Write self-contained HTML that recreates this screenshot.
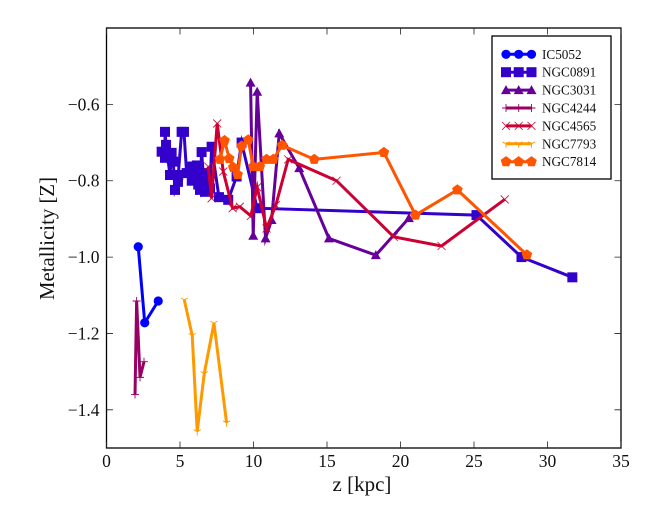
<!DOCTYPE html>
<html>
<head>
<meta charset="utf-8">
<style>
html,body{margin:0;padding:0;background:#fff;}
svg{display:block;}
text{font-family:"Liberation Serif",serif;fill:#111;}
</style>
</head>
<body>
<svg id="chart" width="664" height="525" viewBox="0 0 664 525" xmlns="http://www.w3.org/2000/svg"></svg>
<script>
var xTicks = [0, 5, 10, 15, 20, 25, 30, 35];
var yTicks = [-0.6, -0.8, -1.0, -1.2, -1.4];
var xDomain = [0, 35];
var yDomain = [-1.5, -0.4];

var ic5052Z = [2.16, 2.6, 3.52];
var ic5052M = [-0.973, -1.172, -1.115];
var ngc0891Z = [3.75, 3.98, 3.98, 4.05, 4.32, 4.43, 4.54, 4.66, 4.86, 4.88, 5.11, 5.27, 5.45, 5.68, 5.8, 5.9, 6.02, 6.15, 6.24, 6.36, 6.47, 6.58, 6.7, 6.7, 7.04, 7.15, 7.65, 8.28, 8.85, 9.19, 10.25, 25.17, 28.23, 31.69];
var ngc0891M = [-0.724, -0.74, -0.672, -0.706, -0.785, -0.727, -0.75, -0.824, -0.803, -0.785, -0.672, -0.672, -0.78, -0.763, -0.8, -0.763, -0.785, -0.76, -0.81, -0.824, -0.725, -0.78, -0.798, -0.829, -0.82, -0.711, -0.843, -0.85, -0.789, -0.7, -0.872, -0.89, -1.0, -1.053];
var ngc3031Z = [9.8, 9.98, 10.25, 10.82, 11.23, 11.75, 13.11, 15.13, 18.32, 20.57];
var ngc3031M = [-0.543, -0.944, -0.567, -0.951, -0.903, -0.676, -0.767, -0.951, -0.995, -0.898];
var ngc4244Z = [1.94, 2.05, 2.28, 2.55];
var ngc4244M = [-1.36, -1.115, -1.315, -1.274];
var ngc4565Z = [6.92, 7.15, 7.53, 7.94, 8.58, 9.07, 9.82, 10.25, 10.89, 11.52, 12.36, 15.65, 19.54, 22.79, 27.09];
var ngc4565M = [-0.763, -0.846, -0.65, -0.776, -0.872, -0.868, -0.892, -0.817, -0.925, -0.864, -0.744, -0.8, -0.947, -0.971, -0.849];
var ngc7793Z = [5.29, 5.83, 6.17, 6.65, 7.31, 8.17];
var ngc7793M = [-1.112, -1.205, -1.457, -1.305, -1.173, -1.434];
var ngc7814Z = [7.72, 8.03, 8.35, 8.62, 8.92, 9.19, 9.64, 9.98, 10.43, 10.89, 11.34, 11.95, 14.13, 18.87, 21.02, 23.87, 28.6];
var ngc7814M = [-0.744, -0.695, -0.742, -0.765, -0.784, -0.709, -0.693, -0.763, -0.763, -0.744, -0.744, -0.707, -0.744, -0.726, -0.89, -0.824, -0.994];

var plotLeft = 106.5, plotRight = 621, plotTop = 28, plotBottom = 448;
var NS = 'http://www.w3.org/2000/svg';
var svg = document.getElementById('chart');

function xScale(v) { return plotLeft + (v - xDomain[0]) / (xDomain[1] - xDomain[0]) * (plotRight - plotLeft); }
function yScale(v) { return plotBottom - (v - yDomain[0]) / (yDomain[1] - yDomain[0]) * (plotBottom - plotTop); }

function node(tag, attrs, parent) {
  var el = document.createElementNS(NS, tag);
  for (var k in attrs) { el.setAttribute(k, attrs[k]); }
  (parent || svg).appendChild(el);
  return el;
}

function drawMarker(kind, cx, cy, color, parent) {
  var el, pts, i, a;
  if (kind === 'circle') {
    el = node('circle', {cx: cx, cy: cy, r: 4.6, fill: color}, parent);
  } else if (kind === 'square') {
    el = node('rect', {x: cx - 5, y: cy - 5, width: 10, height: 10, fill: color}, parent);
  } else if (kind === 'triangle') {
    el = node('polygon', {points: (cx) + ',' + (cy - 5) + ' ' + (cx - 5) + ',' + (cy + 4) + ' ' + (cx + 5) + ',' + (cy + 4), fill: color}, parent);
  } else if (kind === 'plus') {
    el = node('path', {d: 'M' + (cx - 4) + ' ' + cy + 'H' + (cx + 4) + 'M' + cx + ' ' + (cy - 4) + 'V' + (cy + 4), stroke: color, 'stroke-width': 0.9, fill: 'none'}, parent);
  } else if (kind === 'cross') {
    el = node('path', {d: 'M' + (cx - 4) + ' ' + (cy - 4) + 'L' + (cx + 4) + ' ' + (cy + 4) + 'M' + (cx - 4) + ' ' + (cy + 4) + 'L' + (cx + 4) + ' ' + (cy - 4), stroke: color, 'stroke-width': 0.8, fill: 'none'}, parent);
  } else if (kind === 'tri-down') {
    el = node('path', {d: 'M' + cx + ' ' + cy + 'V' + (cy + 4) + 'M' + cx + ' ' + cy + 'L' + (cx - 3.6) + ' ' + (cy - 2) + 'M' + cx + ' ' + cy + 'L' + (cx + 3.6) + ' ' + (cy - 2), stroke: color, 'stroke-width': 0.9, fill: 'none'}, parent);
  } else {
    pts = [];
    for (i = 0; i < 5; i++) {
      a = -Math.PI / 2 + i * 2 * Math.PI / 5;
      pts.push((cx + 5.6 * Math.cos(a)).toFixed(2) + ',' + (cy + 5.6 * Math.sin(a)).toFixed(2));
    }
    el = node('polygon', {points: pts.join(' '), fill: color}, parent);
  }
  return el;
}

function drawSeries(name, xs, ys, color, kind) {
  var g = node('g', {});
  
  
  var pts = xs.map(function (x, i) { return xScale(x).toFixed(2) + ',' + yScale(ys[i]).toFixed(2); }).join(' ');
  var line = node('polyline', {points: pts, fill: 'none', stroke: color, 'stroke-width': 3, 'stroke-linejoin': 'miter', 'stroke-miterlimit': 6}, g);
  
  
  xs.forEach(function (x, i) {
    var m = drawMarker(kind, xScale(x), yScale(ys[i]), color, g);
    
    
  });
}

drawSeries('ic5052', ic5052Z, ic5052M, '#0000ff', 'circle');
drawSeries('ngc0891', ngc0891Z, ngc0891M, '#3300cc', 'square');
drawSeries('ngc3031', ngc3031Z, ngc3031M, '#660099', 'triangle');
drawSeries('ngc4244', ngc4244Z, ngc4244M, '#990066', 'plus');
drawSeries('ngc4565', ngc4565Z, ngc4565M, '#cc0033', 'cross');
drawSeries('ngc7793', ngc7793Z, ngc7793M, '#ff9900', 'tri-down');
drawSeries('ngc7814', ngc7814Z, ngc7814M, '#ff5500', 'pentagon');

/* axes frame */
var frame = node('rect', {x: plotLeft, y: plotTop, width: plotRight - plotLeft, height: plotBottom - plotTop, fill: 'none', stroke: '#000', 'stroke-width': 1.3});



/* x ticks */
xTicks.forEach(function (t) {
  var x = xScale(t);
  var tick = node('path', {d: 'M' + x + ' ' + plotBottom + 'v-6.5M' + x + ' ' + plotTop + 'v6.5', stroke: '#222', 'stroke-width': 0.8, fill: 'none'});
  
  
  var label = node('text', {x: x, y: 467, 'font-size': 17.5, 'text-anchor': 'middle'});
  label.textContent = String(t);
  
  
});

/* y ticks */
yTicks.forEach(function (t) {
  var y = yScale(t);
  var tick = node('path', {d: 'M' + plotLeft + ' ' + y + 'h6.5M' + plotRight + ' ' + y + 'h-6.5', stroke: '#222', 'stroke-width': 0.8, fill: 'none'});
  
  
  var label = node('text', {x: 99.5, y: y + 6, 'font-size': 17.5, 'text-anchor': 'end'});
  label.textContent = '\u2212' + Math.abs(t).toFixed(1);
  
  
});

/* axis titles */
var xTitle = node('text', {x: 362, y: 491, 'font-size': 21, 'text-anchor': 'middle'});
xTitle.textContent = 'z [kpc]';



var yTitle = node('text', {x: 0, y: 0, 'font-size': 20.8, 'text-anchor': 'middle', transform: 'translate(54 238.5) rotate(-90)'});
yTitle.textContent = 'Metallicity [Z]';



/* legend */
var legendNames = ['IC5052', 'NGC0891', 'NGC3031', 'NGC4244', 'NGC4565', 'NGC7793', 'NGC7814'];
var legendColors = ['#0000ff', '#3300cc', '#660099', '#990066', '#cc0033', '#ff9900', '#ff5500'];
var legendKinds = ['circle', 'square', 'triangle', 'plus', 'cross', 'tri-down', 'pentagon'];

var legend = node('g', {});


var legendBox = node('rect', {x: 492, y: 36, width: 119, height: 143, fill: '#fff', stroke: '#000', 'stroke-width': 1.3}, legend);



legendNames.forEach(function (name, i) {
  var y = 54.3 + i * 17.9;
  var entry = node('g', {}, legend);
  
  
  node('line', {x1: 506, x2: 531.5, y1: y, y2: y, stroke: legendColors[i], 'stroke-width': 3}, entry);
  [506, 518.7, 531.5].forEach(function (x) {
    drawMarker(legendKinds[i], x, y, legendColors[i], entry);
  });
  var label = node('text', {x: 542, y: y + 4.5, 'font-size': 13.2}, entry);
  label.textContent = name;
  
  
});
</script>
</body>
</html>
